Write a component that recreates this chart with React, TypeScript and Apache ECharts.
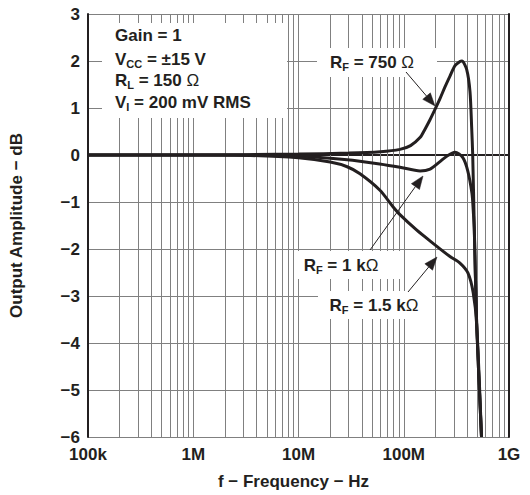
import React, { useEffect, useRef } from 'react';
import * as echarts from 'echarts';

const FONT = '"Liberation Sans", Arial, Helvetica, sans-serif';
const INK = '#231f20';
const GRID = '#808080';

// Axis definitions
const xDecades = [1e5, 1e6, 1e7, 1e8, 1e9];
const xTickLabels = ['100k', '1M', '10M', '100M', '1G'];
const minorMultipliers = [2, 3, 4, 5, 6, 7, 8, 9];
const yMin = -6;
const yMax = 3;

// R_F = 750 Ω
const freq750 = [1e5, 1e6, 1e7, 3e7, 6e7, 9.2e7, 1.16e8, 1.427e8, 1.592e8, 1.776e8, 1.981e8, 2.21e8, 2.465e8, 2.75e8, 3.068e8, 3.422e8, 3.576e8, 3.96e8, 4.26e8, 4.42e8, 4.52e8, 4.68e8, 4.93e8, 5.48e8];
const amp750 = [0, 0, 0.02, 0.04, 0.07, 0.12, 0.2, 0.37, 0.55, 0.75, 0.97, 1.2, 1.45, 1.68, 1.9, 1.99, 2.0, 1.82, 1.35, 0.58, 0.0, -1.53, -3.6, -6];

// R_F = 1 kΩ
const freq1k = [1e5, 1e6, 3e6, 1e7, 2.9e7, 5.9e7, 9.2e7, 1.43e8, 1.78e8, 2.21e8, 2.58e8, 3.07e8, 3.63e8, 4.05e8, 4.45e8, 4.57e8, 4.68e8, 4.93e8, 5.48e8];
const amp1k = [0, 0, 0, -0.02, -0.1, -0.19, -0.26, -0.34, -0.3, -0.14, -0.02, 0.06, -0.05, -0.33, -0.82, -1.17, -1.6, -3.6, -6];

// R_F = 1.5 kΩ
const freq1k5 = [1e5, 1e6, 3.5e6, 1e7, 2e7, 2.9e7, 3.84e7, 5.94e7, 7.9e7, 9.2e7, 1.33e8, 1.9e8, 2.75e8, 3.42e8, 4.07e8, 4.57e8, 4.93e8, 5.48e8];
const amp1k5 = [0, 0, -0.01, -0.06, -0.15, -0.25, -0.4, -0.75, -1.1, -1.27, -1.6, -1.88, -2.16, -2.3, -2.51, -2.93, -3.6, -6];

const zip = (xs: number[], ys: number[]) => xs.map((x, i) => [x, ys[i]]);

const minorFreqs: number[] = [];
xDecades.slice(0, -1).forEach((d) => minorMultipliers.forEach((m) => minorFreqs.push(d * m)));

const richStyles = {
  m: { fontSize: 17, fontWeight: 'bold', fontFamily: FONT, fill: INK, lineHeight: 22 },
  s: { fontSize: 11, fontWeight: 'bold', fontFamily: FONT, fill: INK, lineHeight: 22, padding: [9, 0, 0, 0] },
  o: { fontSize: 17, fontWeight: 'normal', fontFamily: FONT, fill: INK, lineHeight: 22 },
};

function textEl(text: string, x: number, y: number, align: string) {
  return {
    type: 'text',
    z: 110,
    silent: true,
    style: {
      text,
      x,
      y,
      align,
      textAlign: align,
      verticalAlign: 'middle',
      textVerticalAlign: 'middle',
      rich: richStyles,
      font: `bold 17px ${FONT}`,
      fill: INK,
    },
  };
}

function boxEl(x: number, y: number, width: number, height: number) {
  return {
    type: 'rect',
    z: 100,
    silent: true,
    shape: { x, y, width, height },
    style: { fill: '#ffffff', stroke: null },
  };
}

function arrowEls(x1: number, y1: number, x2: number, y2: number) {
  const dx = x2 - x1;
  const dy = y2 - y1;
  const len = Math.sqrt(dx * dx + dy * dy);
  const ux = dx / len;
  const uy = dy / len;
  const headLen = 13;
  const halfW = 5;
  const bx = x2 - ux * headLen;
  const by = y2 - uy * headLen;
  const px = -uy;
  const py = ux;
  return [
    {
      type: 'line',
      z: 105,
      silent: true,
      shape: { x1, y1, x2: bx, y2: by },
      style: { stroke: INK, lineWidth: 1 },
    },
    {
      type: 'polygon',
      z: 105,
      silent: true,
      shape: {
        points: [
          [x2, y2],
          [bx + px * halfW, by + py * halfW],
          [bx - px * halfW, by - py * halfW],
        ],
      },
      style: { fill: INK, stroke: INK, lineWidth: 0.5 },
    },
  ];
}

export default function App() {
  const ref = useRef<HTMLDivElement>(null);

  useEffect(() => {
    document.body.style.margin = '0';
    if (!ref.current) return;
    const chart = echarts.init(ref.current, undefined, { renderer: 'svg' });

    const curveStyle = { color: INK, width: 3 };
    const lineSeries = (name: string, data: number[][]) => ({
      name,
      type: 'line',
      data,
      smooth: 0.25,
      showSymbol: false,
      symbol: 'none',
      lineStyle: curveStyle,
      itemStyle: { color: INK },
      z: 5,
      clip: true,
    });

    chart.setOption({
      animation: false,
      backgroundColor: '#ffffff',
      grid: { left: 88, right: 21, top: 14, bottom: 54, containLabel: false },
      xAxis: [
        {
          type: 'log',
          logBase: 10,
          min: xDecades[0],
          max: xDecades[xDecades.length - 1],
          splitNumber: 4,
          name: 'f − Frequency − Hz',
          nameLocation: 'middle',
          nameGap: 36,
          nameTextStyle: { fontSize: 17, fontWeight: 'bold', fontFamily: FONT, color: INK, padding: [0, 10, 0, 0] },
          axisLine: { show: true, lineStyle: { color: INK, width: 2 } },
          axisTick: { show: false },
          axisLabel: {
            fontSize: 17,
            fontWeight: 'bold',
            fontFamily: FONT,
            color: INK,
            margin: 9,
            showMinLabel: true,
            showMaxLabel: true,
            formatter: (v: number) => {
              const idx = xDecades.findIndex((d) => Math.abs(Math.log10(d) - Math.log10(v)) < 1e-6);
              return idx >= 0 ? xTickLabels[idx] : '';
            },
          },
          splitLine: { show: true, lineStyle: { color: GRID, width: 1 } },
        },
        {
          type: 'log',
          logBase: 10,
          position: 'top',
          min: xDecades[0],
          max: xDecades[xDecades.length - 1],
          axisLine: { show: true, lineStyle: { color: INK, width: 2 } },
          axisTick: { show: false },
          axisLabel: { show: false },
          splitLine: { show: false },
        },
      ],
      yAxis: [
        {
          type: 'value',
          min: yMin,
          max: yMax,
          interval: 1,
          name: 'Output Amplitude − dB',
          nameLocation: 'middle',
          nameGap: 63,
          nameTextStyle: { fontSize: 17, fontWeight: 'bold', fontFamily: FONT, color: INK },
          axisLine: { show: true, lineStyle: { color: INK, width: 2 } },
          axisTick: { show: false },
          axisLabel: {
            fontSize: 17,
            fontWeight: 'bold',
            fontFamily: FONT,
            color: INK,
            margin: 8,
            formatter: (v: number) => (v < 0 ? '−' + Math.abs(v) : String(v)),
          },
          splitLine: { show: true, lineStyle: { color: GRID, width: 1 } },
        },
        {
          type: 'value',
          position: 'right',
          min: yMin,
          max: yMax,
          interval: 1,
          axisLine: { show: true, lineStyle: { color: INK, width: 2 } },
          axisTick: { show: false },
          axisLabel: { show: false },
          splitLine: { show: false },
        },
      ],
      series: [
        {
          name: 'minor-grid',
          type: 'line',
          data: [],
          z: 1,
          silent: true,
          markLine: {
            silent: true,
            symbol: ['none', 'none'],
            label: { show: false },
            lineStyle: { color: GRID, width: 1, type: 'solid' },
            emphasis: { disabled: true },
            data: minorFreqs.map((f) => ({ xAxis: f })),
          },
        },
        lineSeries('RF = 750 Ω', zip(freq750, amp750)),
        lineSeries('RF = 1 kΩ', zip(freq1k, amp1k)),
        lineSeries('RF = 1.5 kΩ', zip(freq1k5, amp1k5)),
      ],
      graphic: [
        boxEl(102, 23, 185, 95),
        textEl('{m|Gain = 1}', 115, 35, 'left'),
        textEl('{m|V}{s|CC}{m| = ±15 V}', 115, 59, 'left'),
        textEl('{m|R}{s|L}{m| = 150 }{o|Ω}', 115, 80, 'left'),
        textEl('{m|V}{s|I}{m| = 200 mV RMS}', 115, 102, 'left'),
        boxEl(317, 48, 120, 29),
        textEl('{m|R}{s|F}{m| = 750 }{o|Ω}', 372, 62, 'center'),
        boxEl(296, 251, 104, 28),
        textEl('{m|R}{s|F}{m| = 1 k}{o|Ω}', 341, 265, 'center'),
        boxEl(318, 291, 114, 28),
        textEl('{m|R}{s|F}{m| = 1.5 k}{o|Ω}', 374, 305, 'center'),
        ...arrowEls(406, 72, 435, 106),
        ...arrowEls(370, 250, 423, 176),
        ...arrowEls(408, 292, 437, 257),
      ],
    });

    return () => {
      chart.dispose();
    };
  }, []);

  return <div ref={ref} style={{ width: 530, height: 495 }} />;
}
